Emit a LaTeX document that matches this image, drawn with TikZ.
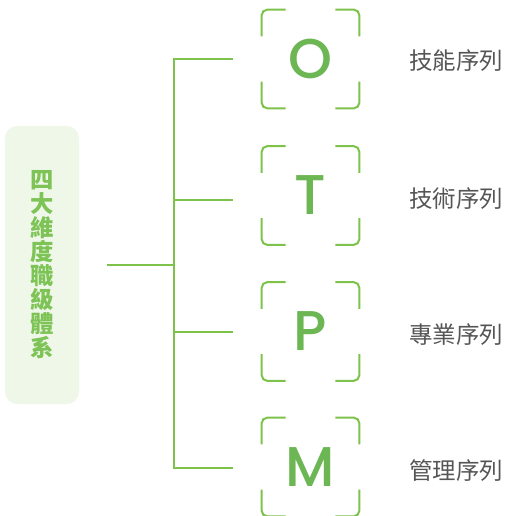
\documentclass[tikz,border=0pt]{standalone}
\usepackage{fontspec}
\usepackage{tikz}
\usetikzlibrary{positioning,calc}
\newfontfamily\cjk{Noto Sans CJK TC}
\newfontfamily\letterfont{Poppins Medium}
\definecolor{linegreen}{HTML}{7DC24A}
\definecolor{lettergreen}{HTML}{6DB654}
\definecolor{rootfill}{HTML}{EFF7E9}
\definecolor{roottext}{HTML}{7DC355}
\definecolor{labelgray}{HTML}{555555}
\tikzset{
    rootbox/.style={rectangle, fill=rootfill, rounded corners=9pt, minimum width=55.5pt, minimum height=208.5pt, align=center, text=roottext, font=\cjk\bfseries\fontsize{17.5}{18}\selectfont},
    letterbox/.style={rectangle, minimum width=72.75pt, minimum height=73.5pt, text=lettergreen, font=\letterfont\fontsize{42}{42}\selectfont},
    label/.style={anchor=west, text=labelgray, font=\cjk\fontsize{17.6}{20}\selectfont, inner sep=0pt},
    line/.style={draw=linegreen, line width=1.5pt},
    bracket/.style={draw=linegreen, line width=1.5pt, rounded corners=4pt}
}
% corner brackets round a letter box
\newcommand{\brackets}[1]{%
    \draw [bracket] ([xshift=18pt]#1.north west) -- (#1.north west) -- ([yshift=-20pt]#1.north west);
    \draw [bracket] ([xshift=-18pt]#1.north east) -- (#1.north east) -- ([yshift=-20pt]#1.north east);
    \draw [bracket] ([xshift=18pt]#1.south west) -- (#1.south west) -- ([yshift=20pt]#1.south west);
    \draw [bracket] ([xshift=-18pt]#1.south east) -- (#1.south east) -- ([yshift=20pt]#1.south east);
}
\begin{document}
\begin{tikzpicture}[x=0.75pt,y=-0.75pt]
    \useasboundingbox (0,0) rectangle (507,516);
    % Root
    \node [rootbox] (root) at (42,265) {四\\大\\維\\度\\職\\級\\體\\系};
    
    % Letter boxes
    \node [letterbox] (O) at (310.5,59) {O};
    \node [letterbox] (T) at (310.5,195.5) {T};
    \node [letterbox] (P) at (310.5,331.5) {P};
    \node [letterbox] (M) at (310.5,467) {M};
    \brackets{O}
    \brackets{T}
    \brackets{P}
    \brackets{M}
    
    % Labels
    \node [label] (skill) at (409,61) {技能序列};
    \node [label] (tech) at (409,199) {技術序列};
    \node [label] (prof) at (409,335) {專業序列};
    \node [label] (mgmt) at (409,471) {管理序列};
    
    % Tree lines
    \coordinate (start) at (107,265);
    \coordinate (hub) at (174,265);
    \coordinate (jO) at (174,59);
    \coordinate (jT) at (174,200);
    \coordinate (jP) at (174,332);
    \coordinate (jM) at (174,468);
    \coordinate (eO) at (233,59);
    \coordinate (eT) at (233,200);
    \coordinate (eP) at (233,332);
    \coordinate (eM) at (233,468);
    \path [line] (start) -- (hub);
    \path [line, line cap=rect] (jO) -- (jM);
    \path [line] (jO) -- (eO);
    \path [line] (jT) -- (eT);
    \path [line] (jP) -- (eP);
    \path [line] (jM) -- (eM);
\end{tikzpicture}
\end{document}
